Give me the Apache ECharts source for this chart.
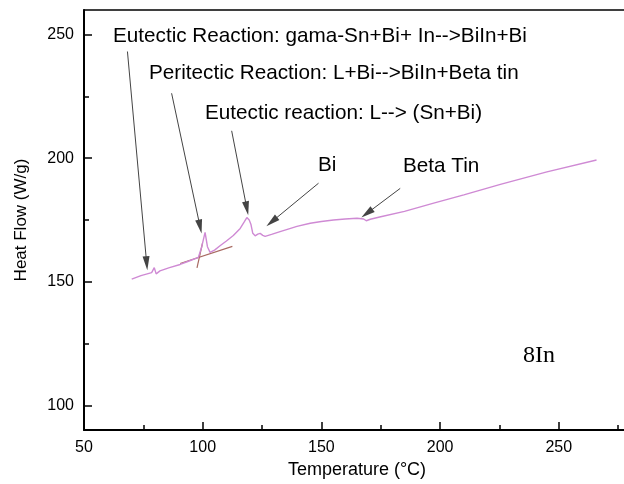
<!DOCTYPE html>
<html><head><meta charset="utf-8">
<script src="https://cdn.jsdelivr.net/npm/echarts@6/dist/echarts.min.js"></script>
<style>html,body{margin:0;padding:0;background:#fff;overflow:hidden}#c{width:700px;height:484px}</style>
</head><body><div id="c"></div>
<script>
const temperature = [70.1,74,78.5,79.6,80.4,82,86,90.5,94,98.2,99.6,101.0,102.0,103.1,105,107.3,110,112.9,115.8,117.5,118.6,119.6,120.3,121.1,122.1,123.2,124.2,125.3,126.3,129,132.6,136,139.7,145.3,150,155.1,160,165.0,167.8,168.9,170.6,175,185,197.3,210,225.4,245,265.9];
const heatFlow = [151.1,152.5,153.7,155.7,153.2,154.4,155.7,157.0,158.3,159.9,164.2,170.0,164.2,161.9,162.8,164.6,166.5,168.7,171.6,174.2,176.0,175.0,173.3,169.6,168.6,169.3,169.6,168.8,168.4,169.2,170.3,171.3,172.4,173.7,174.4,175.0,175.4,175.7,175.4,174.7,175.3,176.3,178.5,181.8,185.2,189.4,194.5,199.3];
const baselineTangentX = [90.5, 112.5];
const baselineTangentY = [157.4, 164.3];
const onsetTangentX = [97.6, 99.9];
const onsetTangentY = [155.6, 165.5];
const xMajorTicks = [50,100,150,200,250];
const xMinorTicks = [75,125,175,225,275];
const yMajorTicks = [100,150,200,250];
const yMinorTicks = [125,175,225];
const arrowStarts = [[68.3,243.2],[86.9,226.3],[112.2,211.1],[148.8,189.9],[183.2,187.8]];
const arrowTips = [[76.4,157.5],[98.9,172.3],[118.6,179.7],[129.1,174.3],[169.2,177.7]];
const annotationTexts = ['Eutectic Reaction: gama-Sn+Bi+ In-->BiIn+Bi','Peritectic Reaction: L+Bi-->BiIn+Beta tin','Eutectic reaction: L--> (Sn+Bi)','Bi','Beta Tin'];
const sampleLabel = '8In';

const chart = echarts.init(document.getElementById('c'), null, {renderer:'canvas'});
const font = '"Liberation Sans", Arial, sans-serif';
const xBase = {type:'value', min:50, max:280, gridIndex:0, position:'bottom', splitLine:{show:false}};
const yBase = {type:'value', min:90, max:260, gridIndex:0, position:'left', splitLine:{show:false}};
const arrowData = arrowStarts.map((s,i)=>[{coord:s, symbol:'none'},{coord:arrowTips[i], symbol:'triangle', symbolSize:[7,14]}]);
chart.setOption({
  animation:false,
  backgroundColor:'#fff',
  grid:{left:84, top:10, width:546, height:420, show:false, outerBoundsMode:'none', containLabel:false},
  xAxis:[
    Object.assign({}, xBase, {
      name:'Temperature (°C)', nameLocation:'middle', nameGap:30,
      nameTextStyle:{fontFamily:font, fontSize:18, color:'#000'},
      axisLine:{show:true, lineStyle:{color:'#000', width:2}},
      axisTick:{show:true, inside:true, length:8, customValues:xMajorTicks, lineStyle:{color:'#000', width:1.5}},
      axisLabel:{show:true, customValues:xMajorTicks, margin:10, fontFamily:font, fontSize:16, color:'#000'}
    }),
    Object.assign({}, xBase, {
      axisLine:{show:false},
      axisTick:{show:true, inside:true, length:5, customValues:xMinorTicks, lineStyle:{color:'#000', width:1.5}},
      axisLabel:{show:false}
    }),
    Object.assign({}, xBase, {
      position:'top',
      axisLine:{show:true, lineStyle:{color:'#000', width:1.5}},
      axisTick:{show:false},
      axisLabel:{show:false}
    })
  ],
  yAxis:[
    Object.assign({}, yBase, {
      name:'Heat Flow (W/g)', nameLocation:'middle', nameGap:54, nameRotate:90,
      nameTextStyle:{fontFamily:font, fontSize:17, color:'#000'},
      axisLine:{show:true, lineStyle:{color:'#000', width:2}},
      axisTick:{show:true, inside:true, length:8, customValues:yMajorTicks, lineStyle:{color:'#000', width:1.5}},
      axisLabel:{show:true, customValues:yMajorTicks, margin:10, fontFamily:font, fontSize:16, color:'#000'}
    }),
    Object.assign({}, yBase, {
      offset:0,
      axisLine:{show:false},
      axisTick:{show:true, inside:true, length:5, customValues:yMinorTicks, lineStyle:{color:'#000', width:1.5}},
      axisLabel:{show:false}
    })
  ],
  series:[
    {type:'line', xAxisIndex:0, yAxisIndex:0, data:temperature.map((t,i)=>[t,heatFlow[i]]), showSymbol:false, symbol:'none',
     lineStyle:{color:'#cf8ad4', width:1.4}, z:3,
     markLine:{silent:true, animation:false, label:{show:false}, lineStyle:{color:'#444', width:1, type:'solid'}, itemStyle:{color:'#111'}, data:arrowData}},
    {type:'line', xAxisIndex:0, yAxisIndex:0, data:baselineTangentX.map((t,i)=>[t,baselineTangentY[i]]), showSymbol:false, symbol:'none', lineStyle:{color:'#a86a62', width:1.2}, z:2},
    {type:'line', xAxisIndex:0, yAxisIndex:0, data:onsetTangentX.map((t,i)=>[t,onsetTangentY[i]]), showSymbol:false, symbol:'none', lineStyle:{color:'#a86a62', width:1.2}, z:2}
  ],
  graphic:[
    {type:'text', left:113, top:26, style:{text:annotationTexts[0], font:'20.7px '+font, fill:'#000'}},
    {type:'text', left:149, top:63, style:{text:annotationTexts[1], font:'20.7px '+font, fill:'#000'}},
    {type:'text', left:205, top:103, style:{text:annotationTexts[2], font:'20.7px '+font, fill:'#000'}},
    {type:'text', left:318, top:155, style:{text:annotationTexts[3], font:'20.7px '+font, fill:'#000'}},
    {type:'text', left:403, top:156, style:{text:annotationTexts[4], font:'20.7px '+font, fill:'#000'}},
    {type:'text', left:523, top:344, style:{text:sampleLabel, font:'24px "Liberation Serif", "Times New Roman", serif', fill:'#000'}}
  ]
});
</script></body></html>
